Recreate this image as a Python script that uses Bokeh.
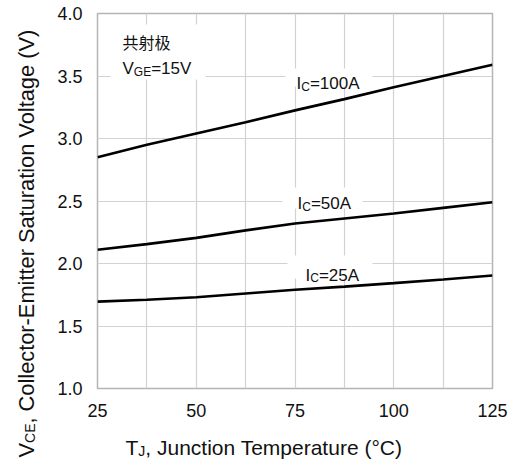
import math
from bokeh.plotting import figure
from bokeh.layouts import row, column
from bokeh.models import Label, FixedTicker, Range1d, NumeralTickFormatter
from bokeh.embed import file_html
from bokeh.resources import INLINE

# ---- data ----
temps = [25, 37.5, 50, 62.5, 75, 87.5, 100, 112.5, 125]
vce_100a = [2.85, 2.95, 3.04, 3.13, 3.225, 3.315, 3.41, 3.50, 3.59]
vce_50a = [2.11, 2.155, 2.205, 2.265, 2.32, 2.36, 2.40, 2.445, 2.49]
vce_25a = [1.695, 1.71, 1.73, 1.76, 1.79, 1.815, 1.843, 1.872, 1.904]
x_ticks = [25, 50, 75, 100, 125]
x_grid_ticks = [25, 37.5, 50, 62.5, 75, 87.5, 100, 112.5, 125]
y_ticks = [1.0, 1.5, 2.0, 2.5, 3.0, 3.5, 4.0]
curve_labels = ["=100A", "=50A", "=25A"]

LAT = "Liberation Sans"
CJK = "Noto Sans CJK SC"
TXT = "#111111"

W, H = 509, 461
YT_W = 40          # strip for the rotated y title
XT_H = 36          # strip for the x title
FL, FR, FT, FB = 97, 492, 13, 388   # frame edges in page pixels

MW, MH = W - YT_W, H - XT_H
p = figure(width=MW, height=MH, output_backend="svg", toolbar_location=None,
           x_range=Range1d(25, 125), y_range=Range1d(1.0, 4.0),
           min_border_left=FL - YT_W, min_border_right=W - FR,
           min_border_top=FT, min_border_bottom=MH - FB)
p.background_fill_color = "white"
p.border_fill_color = "white"
p.outline_line_color = "#b4b4b4"
p.outline_line_width = 1.5

for ax in (p.xaxis[0], p.yaxis[0]):
    ax.axis_line_color = None
    ax.major_tick_line_color = None
    ax.minor_tick_line_color = None
    ax.major_label_text_font = LAT
    ax.major_label_text_font_size = "18px"
    ax.major_label_text_color = TXT
p.xaxis.ticker = FixedTicker(ticks=x_ticks)
p.yaxis.ticker = FixedTicker(ticks=y_ticks)
p.yaxis.formatter = NumeralTickFormatter(format="0.0")
p.xaxis.major_label_standoff = 9
p.yaxis.major_label_standoff = 9

p.xgrid.ticker = FixedTicker(ticks=x_grid_ticks)
p.ygrid.ticker = FixedTicker(ticks=y_ticks)
for g in (p.xgrid[0], p.ygrid[0]):
    g.grid_line_color = "#d2d2d2"
    g.grid_line_width = 1.2


def dx(px):
    return 25 + (px - FL) * 100.0 / (FR - FL)


def dy(py):
    return 1.0 + (FB - py) * 3.0 / (FB - FT)


# white backgrounds behind the annotation texts (mask the grid)
boxes = [(110, 205, 24, 79), (285, 372, 68, 86), (282, 362, 187, 208), (287, 372, 255, 278)]
p.quad(left=[dx(b[0]) for b in boxes], right=[dx(b[1]) for b in boxes],
       top=[dy(b[2]) for b in boxes], bottom=[dy(b[3]) for b in boxes],
       fill_color="white", line_color=None)

for ys in (vce_100a, vce_50a, vce_25a):
    p.line(temps, ys, line_color="black", line_width=2.6)


def txt(fig, ox0, oy1, px, py, text, size, font=LAT, angle=0.0, ox=0, oy=0,
        align="left", baseline="alphabetic"):
    """px, py: page pixels; ox0 = page x of fig frame left; oy1 = page y of fig frame bottom."""
    fig.add_layout(Label(x=px - ox0, y=oy1 - py, x_units="screen", y_units="screen",
                         text=text, text_font=font, text_font_size=f"{size}px",
                         text_color=TXT, angle=angle, text_align=align,
                         text_baseline=baseline, x_offset=ox, y_offset=oy))


# condition note
txt(p, FL, FB, 122, 41, "共射极", 16, font=CJK, baseline="middle")
txt(p, FL, FB, 122, 68, "V", 17)
txt(p, FL, FB, 122 + 0.667 * 17, 68, "GE", 12, oy=-3)
txt(p, FL, FB, 122 + 0.667 * 17 + 1.445 * 12, 68, "=15V", 17)

# curve labels: I_C=...
for (px, py), lab in zip([(296, 83), (297, 203), (305, 274.5)], curve_labels):
    txt(p, FL, FB, px, py, "I", 17)
    txt(p, FL, FB, px + 0.278 * 17, py, "C", 12, oy=-3)
    txt(p, FL, FB, px + 0.278 * 17 + 0.722 * 12, py, lab, 17)


def strip(w, h, bl=0, br=0):
    f = figure(width=w, height=h, output_backend="svg", toolbar_location=None,
               x_axis_type=None, y_axis_type=None,
               x_range=Range1d(0, 1), y_range=Range1d(0, 1),
               min_border=0, min_border_left=bl, min_border_right=br,
               min_border_top=0, min_border_bottom=0)
    f.outline_line_color = None
    f.background_fill_color = "white"
    f.border_fill_color = "white"
    return f


# x axis title: T_J, Junction Temperature (°C)  (strip frame aligned with main frame)
xt = strip(MW, XT_H, bl=FL - YT_W, br=W - FR)
XT_BOTTOM = H + 8      # observed page y of the strip's frame bottom
xs0, xb = 125, 454.5
txt(xt, FL, XT_BOTTOM, xs0, xb, "T", 21)
txt(xt, FL, XT_BOTTOM, xs0 + 0.611 * 21, xb, "J", 14, oy=-4)
txt(xt, FL, XT_BOTTOM, xs0 + 0.611 * 21 + 0.5 * 14, xb, ", Junction Temperature (°C)", 21)

# y axis title (rotated): V_CE, Collector-Emitter Saturation Voltage (V)
yt = strip(YT_W, H)
ang = math.pi / 2
ys0, yb = 457, 25.5
YS = 21.8
txt(yt, 0, H, yb, ys0, "V", YS, angle=ang)
txt(yt, 0, H, yb, ys0 - 0.667 * YS, "CE", 14, angle=ang, ox=4)
txt(yt, 0, H, yb, ys0 - 0.667 * YS - 1.389 * 14,
    ", Collector-Emitter Saturation Voltage (V)", YS, angle=ang)

layout = row(yt, column(p, xt, spacing=0), spacing=0)
open("out.html", "w").write(file_html(layout, INLINE))
